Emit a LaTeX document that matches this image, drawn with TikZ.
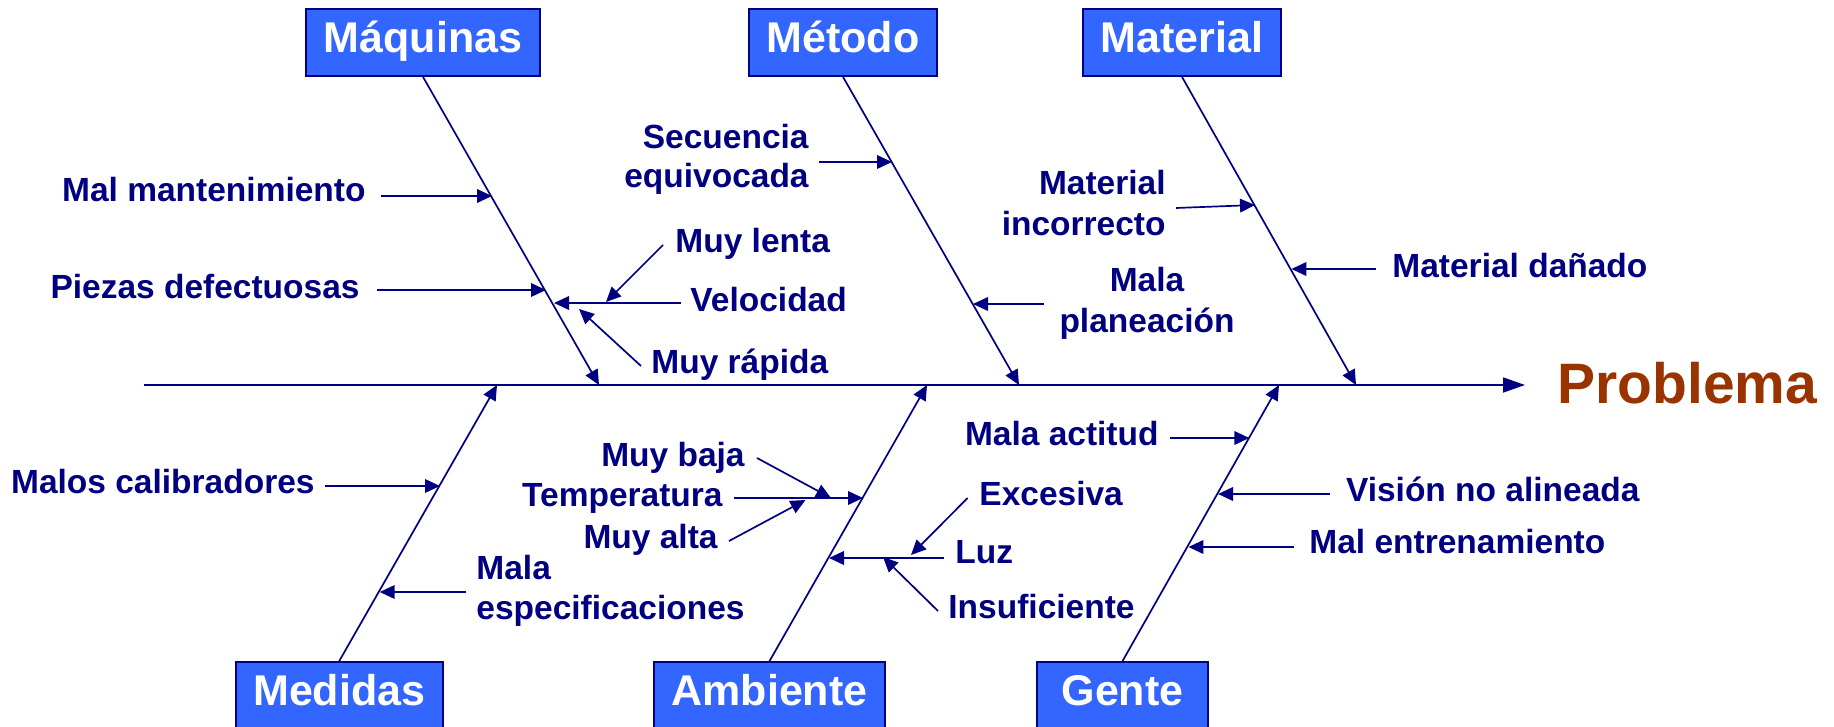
\documentclass[tikz,border=0pt]{standalone}
\usepackage{fontspec}
\setmainfont{Liberation Sans}
\usetikzlibrary{arrows.meta}
\definecolor{navy}{RGB}{0,0,128}
\definecolor{boxblue}{RGB}{51,102,255}
\definecolor{brownred}{RGB}{153,51,0}
\tikzset{
  catbox/.style={draw=navy, line width=0.9pt, fill=boxblue, text=white, inner sep=0pt,
    minimum height=33.5pt, text height=15.6pt, text depth=5.8pt,
    font=\fontsize{21.5}{24}\selectfont\bfseries},
  lbl/.style={inner sep=0pt, text=navy, font=\fontsize{16.75}{19}\selectfont\bfseries},
  arr/.style={draw=navy, line width=0.85pt, -{Triangle[length=7.5pt,width=6.8pt]}},
  bigarr/.style={draw=navy, line width=0.9pt, -{Triangle[length=11pt,width=7.5pt]}},
}
\begin{document}
\begin{tikzpicture}[x=0.5pt,y=-0.5pt]
\useasboundingbox (0,0) rectangle (1834,727);
\clip (0,0) rectangle (1834,727);
% category boxes
\node[catbox, minimum width=117pt] (maq) at (423,42.5) {Máquinas};
\node[catbox, minimum width=94pt] (met) at (843,42.5) {Método};
\node[catbox, minimum width=99pt] (mat) at (1182,42.5) {Material};
\node[catbox, minimum width=103.5pt] (med) at (339.2,695.5) {Medidas};
\node[catbox, minimum width=115.5pt] (amb) at (769.5,695.5) {Ambiente};
\node[catbox, minimum width=85.5pt] (gen) at (1122.5,695.5) {Gente};
% spine
\coordinate (s0) at (143.5,385);
\coordinate (s1) at (1525,385);
\node[inner sep=0pt, anchor=base west, text=brownred, font=\fontsize{28.5}{32}\selectfont\bfseries] (prob) at (1557,403) {Problema};
\draw[bigarr] (s0) -- (s1);
% bone tips
\coordinate (tMaq) at (599,385);
\coordinate (tMet) at (1019,385);
\coordinate (tMat) at (1356,385);
\coordinate (tMed) at (497,385);
\coordinate (tAmb) at (927,385);
\coordinate (tGen) at (1279,385);
\draw[arr] (maq.south) -- (tMaq);
\draw[arr] (met.south) -- (tMet);
\draw[arr] (mat.south) -- (tMat);
\draw[arr] (med.north) -- (tMed);
\draw[arr] (amb.north) -- (tAmb);
\draw[arr] (gen.north) -- (tGen);
% labels
\node[lbl, anchor=base east] (l1) at (366,202) {Mal mantenimiento};
\node[lbl, anchor=base east] (l2) at (360,298) {Piezas defectuosas};
\node[lbl, anchor=base east] (l3) at (809,149) {Secuencia};
\node[lbl, anchor=base east] (l4) at (809,188) {equivocada};
\node[lbl, anchor=base west] (l5) at (675,252) {Muy lenta};
\node[lbl, anchor=base west] (l6) at (690,311) {Velocidad};
\node[lbl, anchor=base west] (l7) at (651,373) {Muy rápida};
\node[lbl, anchor=base] (l8) at (1147,291) {Mala};
\node[lbl, anchor=base] (l9) at (1147,332) {planeación};
\node[lbl, anchor=base east] (l10) at (1166,195) {Material};
\node[lbl, anchor=base east] (l11) at (1166,235) {incorrecto};
\node[lbl, anchor=base west] (l12) at (1392,277) {Material dañado};
\node[lbl, anchor=base east] (l13) at (315,493) {Malos calibradores};
\node[lbl, anchor=base west] (l14) at (476,579) {Mala};
\node[lbl, anchor=base west] (l15) at (476,619) {especificaciones};
\node[lbl, anchor=base east] (l16) at (745,466) {Muy baja};
\node[lbl, anchor=base east] (l17) at (723,506) {Temperatura};
\node[lbl, anchor=base east] (l18) at (718,548) {Muy alta};
\node[lbl, anchor=base west] (l19) at (979,505) {Excesiva};
\node[lbl, anchor=base west] (l20) at (955,563) {Luz};
\node[lbl, anchor=base west] (l21) at (948,618) {Insuficiente};
\node[lbl, anchor=base east] (l22) at (1159,445) {Mala actitud};
\node[lbl, anchor=base west] (l23) at (1345.6,501) {Visión no alineada};
\node[lbl, anchor=base west] (l24) at (1309,553) {Mal entrenamiento};
% arrow endpoints
\coordinate (a1s) at (381,196);   \coordinate (a1e) at (492,196);
\coordinate (a2s) at (377,290);   \coordinate (a2e) at (546,290);
\coordinate (a3s) at (681,303);   \coordinate (a3e) at (554,303);
\coordinate (a4s) at (663,245);   \coordinate (a4e) at (606,302);
\coordinate (a5s) at (641,366);   \coordinate (a5e) at (579,309);
\coordinate (a6s) at (819,162);   \coordinate (a6e) at (892,162);
\coordinate (a7s) at (1044,304);  \coordinate (a7e) at (973,304);
\coordinate (a8s) at (1176,208);  \coordinate (a8e) at (1255,205);
\coordinate (a9s) at (1376,269);  \coordinate (a9e) at (1291.4,269);
\coordinate (a10s) at (325,486);  \coordinate (a10e) at (440,486);
\coordinate (a11s) at (466,592);  \coordinate (a11e) at (379.7,592);
\coordinate (a12s) at (734,498);  \coordinate (a12e) at (863,498);
\coordinate (a13s) at (757,458);  \coordinate (a13e) at (831,498);
\coordinate (a14s) at (729,541);  \coordinate (a14e) at (805.5,500);
\coordinate (a15s) at (944,558);  \coordinate (a15e) at (829,558);
\coordinate (a16s) at (967.6,498);\coordinate (a16e) at (911,555);
\coordinate (a17s) at (938,611);  \coordinate (a17e) at (883,557);
\coordinate (a18s) at (1170,438); \coordinate (a18e) at (1249.3,438);
\coordinate (a19s) at (1330,494); \coordinate (a19e) at (1218,494);
\coordinate (a20s) at (1294,547); \coordinate (a20e) at (1188.4,547);
\foreach \i in {1,...,20}{\draw[arr] (a\i s) -- (a\i e);}
\end{tikzpicture}
\end{document}
